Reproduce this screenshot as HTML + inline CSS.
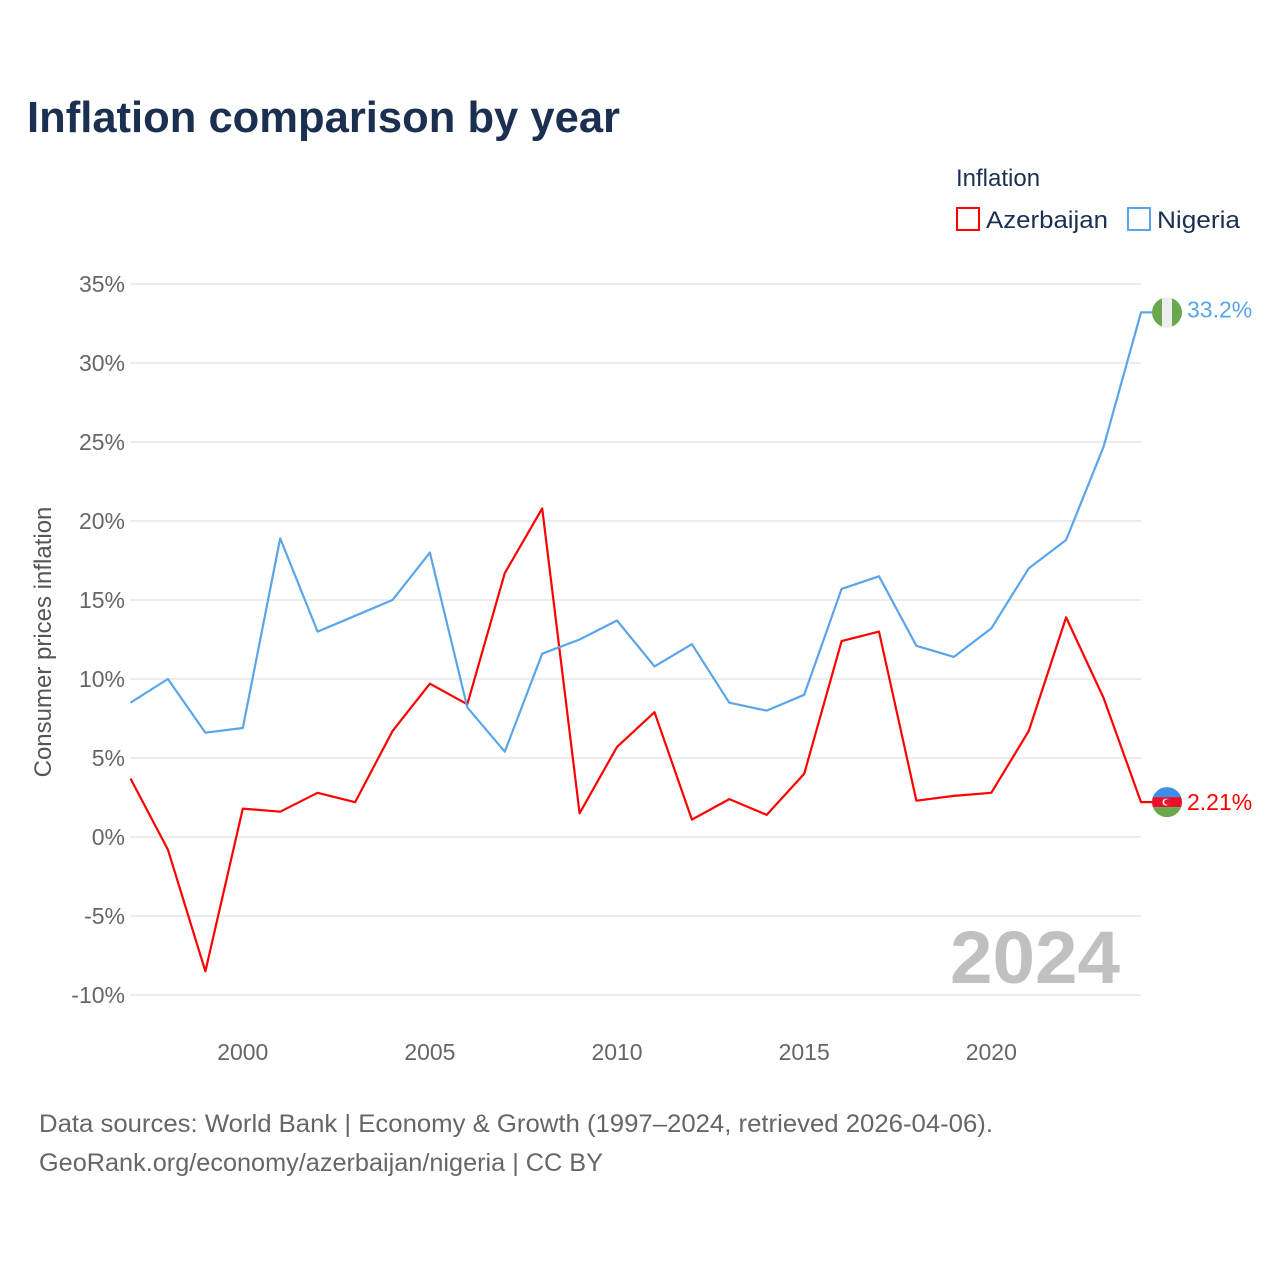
<!DOCTYPE html>
<html><head><meta charset="utf-8">
<style>
body{margin:0;background:#fff;font-family:"Liberation Sans",sans-serif;}
svg text{font-family:"Liberation Sans",sans-serif;}
</style></head>
<body>
<svg width="1280" height="1280" viewBox="0 0 1280 1280" xmlns="http://www.w3.org/2000/svg">
<text x="27" y="132" font-size="44" font-weight="bold" fill="#1b3050" textLength="593" lengthAdjust="spacingAndGlyphs">Inflation comparison by year</text>
<text x="956" y="186" font-size="24" fill="#1b3050">Inflation</text>
<g><rect x="957" y="208" width="22" height="22" fill="none" stroke="#ff0000" stroke-width="2"/><text x="986" y="228" font-size="24" fill="#1b3050" textLength="122" lengthAdjust="spacingAndGlyphs">Azerbaijan</text></g>
<g><rect x="1128" y="208" width="22" height="22" fill="none" stroke="#5aa5ea" stroke-width="2"/><text x="1157" y="228" font-size="24" fill="#1b3050" textLength="83" lengthAdjust="spacingAndGlyphs">Nigeria</text></g>
<g id="grid"></g>
<g id="yticks"></g>
<g id="xticks"></g>
<text x="950" y="983" font-size="74" font-weight="bold" fill="#c0c0c0" textLength="170" lengthAdjust="spacingAndGlyphs">2024</text>
<text transform="translate(51,642) rotate(-90)" text-anchor="middle" font-size="24" fill="#555">Consumer prices inflation</text>
<g id="series"></g>
<text x="39" y="1132" font-size="25" fill="#666" textLength="954" lengthAdjust="spacingAndGlyphs">Data sources: World Bank | Economy &amp; Growth (1997–2024, retrieved 2026-04-06).</text>
<text x="39" y="1171" font-size="25" fill="#666" textLength="564" lengthAdjust="spacingAndGlyphs">GeoRank.org/economy/azerbaijan/nigeria | CC BY</text>
</svg>
<script>
const years=[1997,1998,1999,2000,2001,2002,2003,2004,2005,2006,2007,2008,2009,2010,2011,2012,2013,2014,2015,2016,2017,2018,2019,2020,2021,2022,2023,2024];
const azerbaijan=[3.7,-0.8,-8.5,1.8,1.6,2.8,2.2,6.7,9.7,8.4,16.7,20.8,1.5,5.7,7.9,1.1,2.4,1.4,4.0,12.4,13.0,2.3,2.6,2.8,6.7,13.9,8.8,2.21];
const nigeria=[8.5,10.0,6.6,6.9,18.9,13.0,14.0,15.0,18.0,8.2,5.4,11.6,12.5,13.7,10.8,12.2,8.5,8.0,9.0,15.7,16.5,12.1,11.4,13.2,17.0,18.8,24.7,33.2];
const yTicks=[-10,-5,0,5,10,15,20,25,30,35];
const xTicks=[2000,2005,2010,2015,2020];
const NS="http://www.w3.org/2000/svg";
const X=y=>130.5+(y-1997)*(1141-130.5)/27;
const Y=v=>837-v*15.8;
function mk(tag,attrs,parent,txt){const e=document.createElementNS(NS,tag);for(const k in attrs)e.setAttribute(k,attrs[k]);if(txt!==undefined)e.textContent=txt;parent.appendChild(e);return e;}
const grid=document.getElementById('grid'),yt=document.getElementById('yticks'),xt=document.getElementById('xticks'),ser=document.getElementById('series');
yTicks.forEach(v=>{
 const l=mk('line',{x1:130,x2:1141,y1:Y(v),y2:Y(v),stroke:'#e6e6e6','stroke-width':1.5},grid);
 
 
 const t=mk('text',{x:125,y:Y(v)+8,'text-anchor':'end','font-size':23,fill:'#666'},yt,v+'%');
 
 
});
xTicks.forEach(y=>{
 const t=mk('text',{x:X(y),y:1060,'text-anchor':'middle','font-size':23,fill:'#666'},xt,String(y));
 
 
});
function line(vals,color,name){
 let d=vals.map((v,i)=>(i?'L':'M')+X(years[i]).toFixed(1)+','+Y(v).toFixed(1)).join(' ');
 const last=Y(vals[vals.length-1]);
 d+=' L1152,'+last.toFixed(1);
 const p=mk('path',{d:d,fill:'none',stroke:color,'stroke-width':2.2,'stroke-linejoin':'round'},ser);
 
 
 return last;
}
const ly=line(azerbaijan,'#ff0000','azerbaijan');
const ny=line(nigeria,'#5aa5ea','nigeria');
const nf=mk('g',{},ser);


mk('circle',{cx:1167,cy:ny,r:15,fill:'#6aa84f'},nf);
mk('rect',{x:1162,y:ny-15,width:10,height:30,fill:'#eeeeee'},nf);
const nl=mk('text',{x:1187,y:ny+5,'font-size':23,fill:'#5aa5ea'},ser,nigeria[nigeria.length-1]+'%');


const af=mk('g',{},ser);


mk('clipPath',{id:'ac'},af);
mk('circle',{cx:1167,cy:ly,r:15},document.getElementById('ac'));
const ag=mk('g',{'clip-path':'url(#ac)'},af);
mk('rect',{x:1152,y:ly-15,width:30,height:10,fill:'#3b8fe8'},ag);
mk('rect',{x:1152,y:ly-5,width:30,height:10,fill:'#e8102a'},ag);
mk('rect',{x:1152,y:ly+5,width:30,height:10,fill:'#6aa84f'},ag);
mk('circle',{cx:1166,cy:ly,r:3.5,fill:'#fff'},ag);
mk('circle',{cx:1167,cy:ly,r:2.8,fill:'#e8102a'},ag);
const al=mk('text',{x:1187,y:ly+8,'font-size':23,fill:'#ff0000'},ser,azerbaijan[azerbaijan.length-1]+'%');


</script>
</body></html>
